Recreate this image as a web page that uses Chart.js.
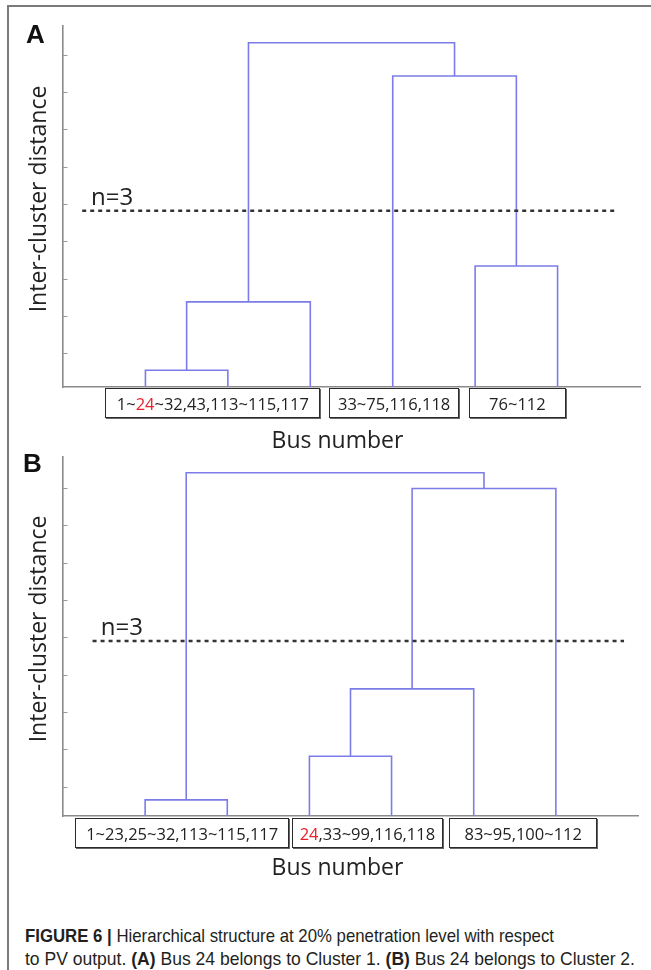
<!DOCTYPE html>
<html><head><meta charset="utf-8">
<script src="https://cdn.jsdelivr.net/npm/chart.js@4.4.1/dist/chart.umd.min.js"></script>
<style>
html,body{margin:0;padding:0;background:#fff;}
#page{position:relative;width:651px;height:970px;overflow:hidden;background:#fff;}
.frame{position:absolute;left:7px;top:5px;width:700px;height:1000px;border-left:2px solid #7a7a7a;border-top:2px solid #7a7a7a;}
canvas{position:absolute;left:0;}
.lbl{position:absolute;white-space:nowrap;color:#222;}
.panel{font-family:'Liberation Sans',Arial,sans-serif;font-weight:bold;font-size:26px;line-height:26px;color:#111;}
.os{font-family:'Open Sans',sans-serif;line-height:1;}
.ytitle{font-family:'Open Sans',sans-serif;font-size:23px;transform:translate(-50%,-50%) rotate(-90deg);}
.box{position:absolute;box-sizing:border-box;border:1.6px solid #2a2a2a;display:flex;align-items:center;justify-content:center;font-family:'Open Sans',sans-serif;font-size:16.5px;color:#222;background:#fff;box-shadow:1px 1px 0 #666;white-space:nowrap;}
.red{color:#e8202a;}
.capline{position:absolute;white-space:nowrap;font-family:'Liberation Sans',Arial,sans-serif;font-size:18.5px;line-height:22.5px;color:#231f20;transform-origin:0 0;}
</style></head>
<body><div id="page">
<div class="frame"></div>
<canvas id="cA" width="651" height="460" style="top:0"></canvas>
<canvas id="cB" width="651" height="440" style="top:440px"></canvas>
<div class="lbl panel" style="left:26px;top:21px;">A</div>
<div class="lbl panel" style="left:23px;top:450px;">B</div>
<div class="lbl ytitle" style="left:36.7px;top:199px;">Inter-cluster distance</div>
<div class="lbl ytitle" style="left:36.7px;top:629px;">Inter-cluster distance</div>
<div class="lbl os" style="left:91px;top:183.7px;font-size:24px;">n=3</div>
<div class="lbl os" style="left:100.7px;top:613.7px;font-size:24px;">n=3</div>
<div class="lbl os" style="left:237.5px;width:200px;text-align:center;top:427.9px;font-size:23px;">Bus number</div>
<div class="lbl os" style="left:237.5px;width:200px;text-align:center;top:854.6px;font-size:23px;">Bus number</div>
<div class="capline" data-w="529" style="left:25px;top:925px;"><b>FIGURE 6 |</b> Hierarchical structure at 20% penetration level with respect</div>
<div class="capline" data-w="610" style="left:25px;top:947.5px;">to PV output. <b>(A)</b> Bus 24 belongs to Cluster 1. <b>(B)</b> Bus 24 belongs to Cluster 2.</div>
</div>
<script>
// ---------- data ----------
const leafX = [1, 2, 3, 4, 5, 6];

// Panel A: merges (node ids 0-5 are leaves, 6+ are merges in order)
const mergeHeightsA = [0.45, 2.28, 3.24, 8.33, 9.22];
const mergeLeftA    = [0, 6, 4, 3, 7];
const mergeRightA   = [1, 2, 5, 8, 9];
const cutHeightA    = 4.72;
const cutSpanA      = [0.233, 6.69];
const yTicksA       = [0.9, 1.9, 2.9, 3.9, 4.9, 5.9, 6.9, 7.9, 8.9];
const clusterLabelsA = ['1~[24]~32,43,113~115,117', '33~75,116,118', '76~112'];
const clusterStartA  = [0.515, 3.225, 4.92];
const clusterEndA    = [3.12, 4.81, 6.106];

// Panel B
const mergeHeightsB = [0.43, 1.60, 3.40, 8.76, 9.18];
const mergeLeftB    = [0, 2, 7, 8, 6];
const mergeRightB   = [1, 3, 4, 5, 9];
const cutHeightB    = 4.68;
const cutSpanB      = [0.36, 6.83];
const yTicksB       = [0.78, 1.78, 2.78, 3.78, 4.78, 5.78, 6.78, 7.78, 8.78];
const clusterLabelsB = ['1~23,25~32,113~115,117', '[24],33~99,116,118', '83~95,100~112'];
const clusterStartB  = [0.147, 2.79, 4.70];
const clusterEndB    = [2.756, 4.622, 6.506];

// ---------- build ----------
const LINK_COLOR = '#7c7ce8';
function dendroDatasets(heights, lefts, rights) {
  const nx = leafX.slice(), ny = leafX.map(() => 0), ds = [];
  heights.forEach((h, i) => {
    const l = lefts[i], r = rights[i];
    ds.push({
      data: [{x: nx[l], y: ny[l]}, {x: nx[l], y: h}, {x: nx[r], y: h}, {x: nx[r], y: ny[r]}],
      borderColor: LINK_COLOR, borderWidth: 1.6, pointRadius: 0, tension: 0, fill: false
    });
    nx.push((nx[l] + nx[r]) / 2); ny.push(h);
  });
  return ds;
}
function cutDataset(h, span) {
  return {data: [{x: span[0], y: h}, {x: span[1], y: h}], borderColor: '#333', borderWidth: 2.4,
          borderDash: [4, 4], pointRadius: 0, fill: false};
}
const innerTicks = {
  id: 'innerTicks',
  afterDatasetsDraw(chart, args, opts) {
    const ctx = chart.ctx, ys = chart.scales.y, x0 = chart.chartArea.left;
    ctx.save(); ctx.strokeStyle = '#9a9a9a'; ctx.lineWidth = 1;
    opts.values.forEach(v => {
      const py = Math.round(ys.getPixelForValue(v)) + 0.5;
      ctx.beginPath(); ctx.moveTo(x0, py); ctx.lineTo(x0 + 4.5, py); ctx.stroke();
    });
    ctx.restore();
  }
};
function makeChart(id, heights, lefts, rights, cutH, cutSpan, ticks, yMax, pad) {
  const axisCommon = {grid: {display: false, drawTicks: false}, ticks: {display: false},
                      border: {display: true, color: '#8a8a8a', width: 1.6}};
  return new Chart(document.getElementById(id), {
    type: 'line',
    data: {datasets: [cutDataset(cutH, cutSpan)].concat(dendroDatasets(heights, lefts, rights))},
    options: {
      responsive: false, animation: false, devicePixelRatio: 1,
      layout: {padding: pad},
      plugins: {legend: {display: false}, tooltip: {enabled: false}, innerTicks: {values: ticks}},
      scales: {
        x: Object.assign({type: 'linear', min: 0, max: 7}, axisCommon),
        y: Object.assign({type: 'linear', min: 0, max: yMax}, axisCommon)
      }
    },
    plugins: [innerTicks]
  });
}
const chartA = makeChart('cA', mergeHeightsA, mergeLeftA, mergeRightA, cutHeightA, cutSpanA, yTicksA, 9.67,
                         {left: 63, top: 26, right: 11, bottom: 73});
const chartB = makeChart('cB', mergeHeightsB, mergeLeftB, mergeRightB, cutHeightB, cutSpanB, yTicksB, 9.61,
                         {left: 63, top: 16.7, right: 13, bottom: 64});

const page = document.getElementById('page');
function placeBoxes(chart, canvasTop, starts, ends, labels, gap) {
  const xs = chart.scales.x;
  const top = canvasTop + chart.chartArea.bottom + gap;
  labels.forEach((lab, i) => {
    const l = xs.getPixelForValue(starts[i]), r = xs.getPixelForValue(ends[i]);
    const d = document.createElement('div');
    d.className = 'box';
    d.style.left = l + 'px'; d.style.width = (r - l) + 'px';
    d.style.top = top + 'px'; d.style.height = '30px';
    d.innerHTML = lab.replace(/\[(.*?)\]/g, '<span class="red">$1</span>');
    page.appendChild(d);
  });
}
placeBoxes(chartA, 0, clusterStartA, clusterEndA, clusterLabelsA, 1.3);
placeBoxes(chartB, 440, clusterStartB, clusterEndB, clusterLabelsB, 2.3);

// condensed caption: fit each line to its measured width in the figure
document.querySelectorAll('.capline').forEach(el => {
  const w = el.getBoundingClientRect().width;
  el.style.transform = 'scaleX(' + (parseFloat(el.dataset.w) / w) + ')';
});
</script>
</body></html>
